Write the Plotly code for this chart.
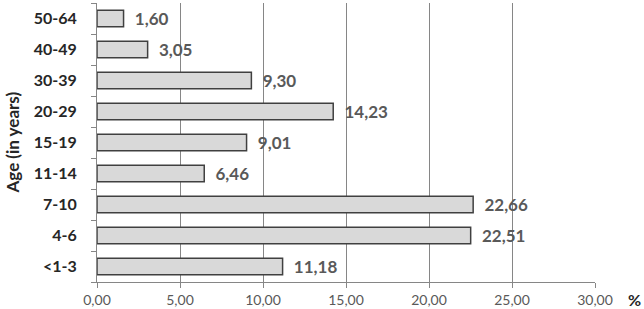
import plotly.graph_objects as go

categories = ["<1-3", "4-6", "7-10", "11-14", "15-19", "20-29", "30-39", "40-49", "50-64"]
values = [11.18, 22.51, 22.66, 6.46, 9.01, 14.23, 9.30, 3.05, 1.60]
x_ticks = [0, 5, 10, 15, 20, 25, 30]
x_tick_labels = ["0,00", "5,00", "10,00", "15,00", "20,00", "25,00", "30,00"]

labels = ["  " + f"{v:.2f}".replace(".", ",") for v in values]

FONT = "Lato"

fig = go.Figure(go.Bar(
    y=categories, x=values, orientation="h",
    marker=dict(color="#d9d9d9", line=dict(color="#404040", width=1.5)),
    text=labels, textposition="outside", cliponaxis=False,
    constraintext="none",
    textfont=dict(family=FONT, size=17, color="#595959", weight="bold"),
    width=0.53,
))

fig.update_layout(
    width=644, height=309,
    margin=dict(l=97, r=49, t=3, b=27),
    plot_bgcolor="white", paper_bgcolor="white",
    showlegend=False,
    font=dict(family=FONT),
    xaxis=dict(
        range=[0, 30], tickvals=x_ticks, ticktext=x_tick_labels,
        showgrid=True, gridcolor="#868686", gridwidth=1,
        showline=True, linecolor="#868686", linewidth=1,
        ticks="outside", ticklen=5, tickcolor="#868686",
        tickfont=dict(family=FONT, size=14, color="#595959"),
        zeroline=False, automargin=False,
    ),
    yaxis=dict(
        categoryorder="array", categoryarray=categories,
        showline=True, linecolor="#868686", linewidth=1,
        ticks="outside", tickson="boundaries", ticklen=5, tickcolor="#868686",
        tickfont=dict(family=FONT, size=16, color="#262626", weight="bold"),
        ticklabelstandoff=16,
        showgrid=False, automargin=False,
    ),
    annotations=[
        dict(
            text="%", x=1, xref="paper", xanchor="left", xshift=31,
            y=0, yref="paper", yanchor="top", yshift=-6,
            showarrow=False,
            font=dict(family=FONT, size=16, color="#262626", weight="bold"),
        ),
        dict(
            text="Age (in years)", textangle=-90,
            x=0, xref="paper", xanchor="center", xshift=-85,
            y=0.5, yref="paper", yanchor="middle",
            showarrow=False,
            font=dict(family=FONT, size=17, color="#262626", weight="bold"),
        ),
    ],
)

fig.write_html("out.html", config={"displayModeBar": False},
               post_script="document.body.style.margin='0';")
